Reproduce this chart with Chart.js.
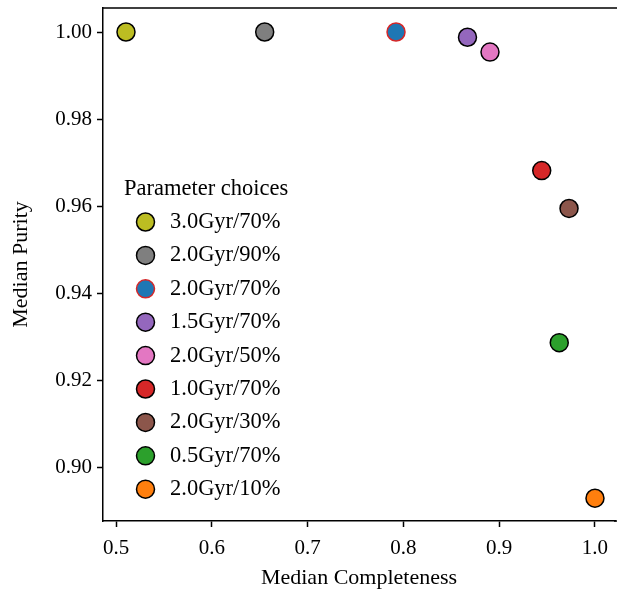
<!DOCTYPE html>
<html>
<head>
<meta charset="utf-8">
<script src="https://cdn.jsdelivr.net/npm/chart.js@4.4.0/dist/chart.umd.min.js"></script>
<style>
  html, body { margin: 0; padding: 0; background: #fff; }
  #wrap { width: 617px; height: 595px; position: relative; }
</style>
</head>
<body>
<div id="wrap"><canvas id="purityChart" width="617" height="595"></canvas></div>
<script>
// parameter choices
const labels = ['3.0Gyr/70%', '2.0Gyr/90%', '2.0Gyr/70%', '1.5Gyr/70%', '2.0Gyr/50%',
                '1.0Gyr/70%', '2.0Gyr/30%', '0.5Gyr/70%', '2.0Gyr/10%'];
const completeness = [0.5104, 0.6552, 0.7923, 0.8669, 0.8904, 0.9444, 0.9729, 0.9627, 1.000];
const purity = [1.000, 1.000, 1.000, 0.9988, 0.9954, 0.9682, 0.9595, 0.9287, 0.8930];
const fillColors = ['#bcbd22', '#7f7f7f', '#1f77b4', '#9467bd', '#e377c2',
                    '#d62728', '#8c564b', '#2ca02c', '#ff7f0e'];
const edgeColors = ['#000', '#000', '#d62728', '#000', '#000', '#000', '#000', '#000', '#000'];
const xTicks = [0.5, 0.6, 0.7, 0.8, 0.9, 1.0];
const yTicks = [0.90, 0.92, 0.94, 0.96, 0.98, 1.00];

const FONT = '"Liberation Serif", "DejaVu Serif", serif';

// top spine; the right one falls just outside the picture
const framePlugin = {
  id: 'frame',
  afterDraw(chart) {
    const {ctx, chartArea: a, width} = chart;
    ctx.save();
    ctx.strokeStyle = '#000';
    ctx.lineWidth = 1.5;
    ctx.beginPath();
    ctx.moveTo(a.left, a.top);
    ctx.lineTo(width, a.top);
    ctx.moveTo(a.right - 1, a.bottom);
    ctx.lineTo(width, a.bottom);
    ctx.stroke();
    ctx.restore();
  }
};

// legend drawn inside the axes like matplotlib
const innerLegend = {
  id: 'innerLegend',
  afterDraw(chart) {
    const ctx = chart.ctx;
    ctx.save();
    ctx.font = '22.5px ' + FONT;
    ctx.fillStyle = '#000';
    ctx.textBaseline = 'middle';
    ctx.textAlign = 'left';
    ctx.fillText('Parameter choices', 124, 189);
    chart.data.datasets.forEach((ds, i) => {
      const y = 222 + i * 33.4;
      ctx.beginPath();
      ctx.arc(145.5, y, 9, 0, Math.PI * 2);
      ctx.fillStyle = ds.backgroundColor;
      ctx.fill();
      ctx.lineWidth = 1.5;
      ctx.strokeStyle = ds.borderColor;
      ctx.stroke();
      ctx.fillStyle = '#000';
      ctx.fillText(ds.label, 170, y);
    });
    ctx.restore();
  }
};

const datasets = labels.map((l, i) => ({
  label: l,
  data: [{x: completeness[i], y: purity[i]}],
  backgroundColor: fillColors[i],
  borderColor: edgeColors[i],
  borderWidth: 1.5,
  pointRadius: 9,
  pointHoverRadius: 9,
  clip: false
}));

new Chart(document.getElementById('purityChart'), {
  type: 'scatter',
  data: {datasets: datasets},
  options: {
    responsive: false,
    animation: false,
    layout: {autoPadding: false, padding: {left: 0, right: 2, top: 8, bottom: 0}},
    plugins: {legend: {display: false}, tooltip: {enabled: false}},
    scales: {
      x: {
        type: 'linear',
        min: 0.4864,
        max: 1.0209,
        afterBuildTicks: s => { s.ticks = xTicks.map(v => ({value: v})); },
        afterFit: s => { s.height = 74; s.paddingLeft = 0; s.paddingRight = 0; },
        grid: {drawOnChartArea: false, drawTicks: true, tickLength: 6, tickWidth: 1.5, tickColor: '#000'},
        border: {display: true, color: '#000', width: 1.5},
        ticks: {color: '#000', font: {family: FONT, size: 21}, padding: 9,
                maxRotation: 0, callback: v => v.toFixed(1)},
        title: {display: true, text: 'Median Completeness', color: '#000',
                font: {family: FONT, size: 22}, padding: {top: 0, bottom: 4}}
      },
      y: {
        type: 'linear',
        min: 0.88777,
        max: 1.00551,
        afterBuildTicks: s => { s.ticks = yTicks.map(v => ({value: v})); },
        afterFit: s => { s.width = 103; s.paddingTop = 0; s.paddingBottom = 0; },
        grid: {drawOnChartArea: false, drawTicks: true, tickLength: 6, tickWidth: 1.5, tickColor: '#000'},
        border: {display: true, color: '#000', width: 1.5},
        ticks: {color: '#000', font: {family: FONT, size: 21}, padding: 5,
                callback: v => v.toFixed(2)},
        title: {display: true, text: 'Median Purity', color: '#000',
                font: {family: FONT, size: 22}, padding: {top: 8, bottom: 0}}
      }
    }
  },
  plugins: [framePlugin, innerLegend]
});
</script>
</body>
</html>
